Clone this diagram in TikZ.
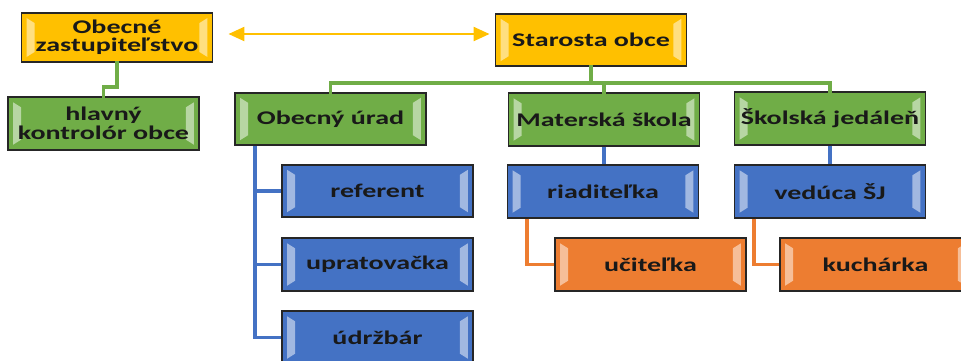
\documentclass[tikz,border=0pt]{standalone}
\usepackage{fontspec}
\setmainfont{Carlito}[FakeStretch=1.45]
\usetikzlibrary{arrows.meta}
\definecolor{zlta}{HTML}{FFC000}
\definecolor{zelena}{HTML}{70AD47}
\definecolor{modra}{HTML}{4472C4}
\definecolor{oranzova}{HTML}{ED7D31}

\begin{document}
\begin{tikzpicture}[x=0.02cm,y=-0.02cm,
                box/.style={draw=black!85,line width=1.1pt,
                    minimum width=3.82cm,minimum height=1.05cm,inner sep=0pt,
                    align=center,text=black!90,
                    font=\bfseries\fontsize{11}{10.5}\selectfont,
                    path picture={
                        \fill[white,opacity=.5]
                            ([xshift=.1cm,yshift=-.1cm]path picture bounding box.north west) --
                            ([xshift=.26cm,yshift=-.2cm]path picture bounding box.north west) --
                            ([xshift=.26cm,yshift=.2cm]path picture bounding box.south west) --
                            ([xshift=.1cm,yshift=.1cm]path picture bounding box.south west) -- cycle;
                        \fill[white,opacity=.5]
                            ([xshift=-.1cm,yshift=-.1cm]path picture bounding box.north east) --
                            ([xshift=-.26cm,yshift=-.2cm]path picture bounding box.north east) --
                            ([xshift=-.26cm,yshift=.2cm]path picture bounding box.south east) --
                            ([xshift=-.1cm,yshift=.1cm]path picture bounding box.south east) -- cycle;
                    }},
                vedenie/.style={box,fill=zlta},
                utvar/.style={box,fill=zelena},
                veduci/.style={box,fill=modra},
                pracovnik/.style={box,fill=oranzova},
                spoj/.style={line width=2.1pt,line cap=rect}]
                \clip (0,0) rectangle (961,360);
                % vedenie obce
                \node[vedenie,minimum height=0.98cm] (zast) at (117,37.5) {Obecné\\zastupiteľstvo};
                \node[vedenie] (starosta) at (591,40) {Starosta obce};
                \node[utvar] (kontrolor) at (103.5,123.5) {hlavný\\kontrolór obce};
                \draw[zlta,line width=1.3pt,{Triangle[length=0.32cm,width=0.28cm]}-{Triangle[length=0.32cm,width=0.28cm]}]
                    ([xshift=0.3cm,yshift=0.07cm]zast.east) -- ([xshift=-0.1cm,yshift=0.07cm]zast.east -| starosta.west);
                % utvary
                \node[utvar] (urad) at (330.5,119) {Obecný úrad};
                \node[utvar] (materska) at (604,119.5) {Materská škola};
                \node[utvar] (jedalen) at (830,118.5) {Školská jedáleň};
                % zamestnanci
                \node[veduci] (referent) at (377.5,191) {referent};
                \node[veduci] (upratovacka) at (377.5,264.5) {upratovačka};
                \node[veduci] (udrzbar) at (377.5,337.5) {údržbár};
                \node[veduci] (riaditelka) at (603,191.5) {riaditeľka};
                \node[veduci] (veduca) at (830,191.5) {vedúca ŠJ};
                \node[pracovnik] (ucitelka) at (650.5,264.5) {učiteľka};
                \node[pracovnik] (kucharka) at (875.5,264.5) {kuchárka};
                % spoje
                \coordinate (zbernica) at (0,83);
                \coordinate (kontrola) at (0,87);
                \draw[spoj,zelena] (zast.south) -- (zast.south |- kontrola) -| (kontrolor.north);
                \draw[spoj,zelena] (starosta.south) -- (starosta.south |- zbernica);
                \draw[spoj,zelena] (urad.north) -- (urad.north |- zbernica) -| (jedalen.north);
                \draw[spoj,zelena] (materska.north) -- (materska.north |- zbernica);
                \coordinate (kmen) at ([xshift=-1.51cm]urad.south);
                \foreach \n in {referent,upratovacka,udrzbar}
                    \draw[spoj,modra,line cap=butt] (kmen) |- (\n.west);
                \draw[spoj,modra,line cap=butt] (materska.south) -- (materska.south |- riaditelka.north);
                \draw[spoj,modra,line cap=butt] (jedalen.south) -- (veduca.north);
                \draw[spoj,oranzova,line cap=butt] ([xshift=-1.52cm]riaditelka.south) |- (ucitelka.west);
                \draw[spoj,oranzova,line cap=butt] ([xshift=-1.52cm]veduca.south) |- (kucharka.west);
            \end{tikzpicture}
\end{document}
